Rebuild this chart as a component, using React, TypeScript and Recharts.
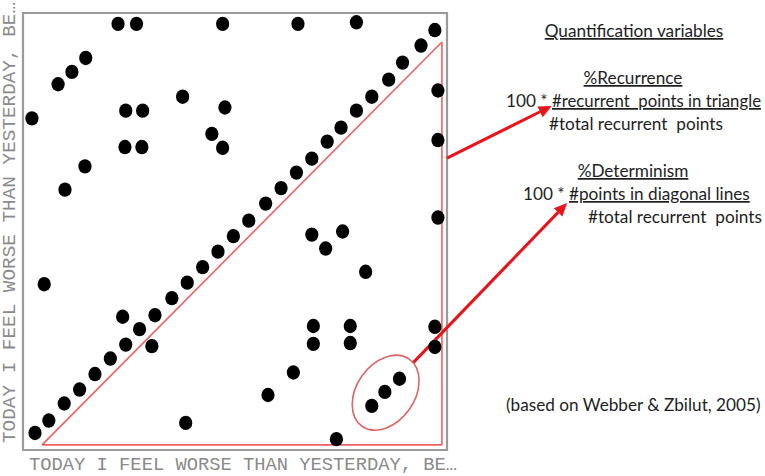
import React from "react";
import {
  ScatterChart,
  Scatter,
  XAxis,
  YAxis,
  ReferenceLine,
  ReferenceArea,
  ReferenceDot,
} from "recharts";

// recurrence points on the line of identity (time i vs time j)
const diagX = [0, 0.9, 1.9, 2.9, 3.9, 4.9, 5.9, 6.8, 7.8, 8.9, 9.9, 10.9, 11.9, 12.9, 13.9, 15.0, 16.0, 17.0, 18.0, 19.0, 19.9, 20.9, 21.9, 23.0, 23.9, 25.1, 26.0];
const diagY = [0, 0.8, 1.9, 2.8, 3.8, 4.8, 5.7, 6.7, 7.6, 8.7, 9.7, 10.7, 11.7, 12.7, 13.7, 14.8, 15.8, 16.8, 17.7, 18.8, 19.7, 20.8, 21.7, 22.8, 23.9, 25.0, 26.0];

// other recurrent points
const otherX = [5.4, 6.6, 12.2, 17.1, 20.9, 3.3, 2.4, 1.5, -0.2, 9.6, 5.9, 7.0, 12.35, 11.5, 12.2, 5.85, 6.95, 3.25, 1.95, 26.2, 26.2, 26.2, 18.0, 20.0, 18.9, 21.5, 0.6, 5.7, 7.6, 18.1, 20.5, 18.1, 20.5, 26.0, 26.0, 16.8, 15.15, 9.8, 19.6, 21.9, 22.75, 23.7];
const otherY = [26.4, 26.4, 26.4, 26.4, 26.5, 24.2, 23.3, 22.5, 20.3, 21.7, 20.8, 20.8, 21.0, 19.3, 18.4, 18.45, 18.45, 17.2, 15.7, 22.1, 18.9, 13.9, 12.8, 13.0, 11.9, 10.4, 9.6, 7.5, 5.6, 6.9, 6.9, 5.75, 5.8, 6.85, 5.55, 3.9, 2.45, 0.65, -0.4, 1.75, 2.65, 3.5];

// triangle (upper recurrence triangle outline) corners
const triX = [0.46, 26.46, 26.46];
const triY = [-0.77, 25.23, -0.77];

// circled diagonal line
const circleX = 22.8;
const circleY = 2.6;

// annotation arrows: [fromX, fromY, toX, toY]
const arrowRecurrence = [26.79, 17.74, 33.6, 21.1];
const arrowDeterminism = [24.58, 4.52, 34.6, 14.84];

const axisTitle = "TODAY I FEEL WORSE THAN YESTERDAY, BE…";

const xDomain = [-0.78, 26.79];
const yDomain = [-1.1, 27.1];

const points = [
  ...diagX.map((x, i) => ({ x, y: diagY[i] })),
  ...otherX.map((x, i) => ({ x, y: otherY[i] })),
];

const Dot = (props: any) => {
  const { cx, cy } = props;
  if (cx == null || cy == null) return null;
  return <ellipse cx={cx} cy={cy} rx={6.6} ry={7.2} fill="#000" />;
};

const Arrow = (props: any) => {
  const { x1, y1, x2, y2 } = props;
  const a = Math.atan2(y2 - y1, x2 - x1);
  const len = 13;
  const w = 6;
  const bx = x2 - len * Math.cos(a);
  const by = y2 - len * Math.sin(a);
  const p1 = `${bx + w * Math.sin(a)},${by - w * Math.cos(a)}`;
  const p2 = `${bx - w * Math.sin(a)},${by + w * Math.cos(a)}`;
  return (
    <g>
      <line x1={x1} y1={y1} x2={bx} y2={by} stroke="#e8141b" strokeWidth={3} />
      <polygon points={`${x2},${y2} ${p1} ${p2}`} fill="#e8141b" />
    </g>
  );
};

const CircleMark = (props: any) => {
  const { cx, cy } = props;
  return (
    <ellipse
      cx={cx}
      cy={cy}
      rx={41}
      ry={29}
      transform={`rotate(-55 ${cx} ${cy})`}
      fill="none"
      stroke="#e06666"
      strokeWidth={1.6}
    />
  );
};

const textStyle = {
  fontFamily: "Lato, 'Open Sans', sans-serif",
  fontSize: 17.2,
  fill: "#1e1e1e",
  whiteSpace: "pre" as const,
};
const ul = { textDecoration: "underline" };

export default function App() {
  return (
    <div style={{ position: "absolute", left: 0, top: 0, width: 765, height: 476, background: "#fff" }}>
      <ScatterChart width={765} height={476} margin={{ top: 13, right: 318, bottom: 0, left: 0 }}>
        <XAxis type="number" dataKey="x" domain={xDomain} allowDataOverflow height={26} tick={false} tickLine={false} axisLine={false} />
        <YAxis type="number" dataKey="y" domain={yDomain} allowDataOverflow width={23} tick={false} tickLine={false} axisLine={false} />
        <ReferenceArea x1={xDomain[0]} x2={xDomain[1]} y1={yDomain[0]} y2={yDomain[1]} fill="none" stroke="#9a9a9a" strokeWidth={2.2} />
        <ReferenceLine segment={[{ x: triX[0], y: triY[0] }, { x: triX[1], y: triY[1] }]} stroke="#f06060" strokeWidth={1.6} ifOverflow="visible" />
        <ReferenceLine segment={[{ x: triX[1], y: triY[1] }, { x: triX[2], y: triY[2] }]} stroke="#f06060" strokeWidth={1.6} ifOverflow="visible" />
        <ReferenceLine segment={[{ x: triX[2], y: triY[2] }, { x: triX[0], y: triY[0] }]} stroke="#f06060" strokeWidth={1.6} ifOverflow="visible" />
        <Scatter data={points} isAnimationActive={false} shape={<Dot />} />
        <ReferenceDot x={circleX} y={circleY} ifOverflow="visible" shape={<CircleMark />} />
        <ReferenceLine
          segment={[{ x: arrowRecurrence[0], y: arrowRecurrence[1] }, { x: arrowRecurrence[2], y: arrowRecurrence[3] }]}
          ifOverflow="visible"
          shape={<Arrow />}
        />
        <ReferenceLine
          segment={[{ x: arrowDeterminism[0], y: arrowDeterminism[1] }, { x: arrowDeterminism[2], y: arrowDeterminism[3] }]}
          ifOverflow="visible"
          shape={<Arrow />}
        />
      </ScatterChart>
      <svg width={765} height={476} style={{ position: "absolute", left: 0, top: 0, pointerEvents: "none" }}>
        <text x={29} y={470} textLength={428} lengthAdjust="spacingAndGlyphs" style={{ fontFamily: "'Liberation Mono', monospace", fontSize: 18.5, fill: "#8a8a8a" }}>
          {axisTitle}
        </text>
        <text
          x={0}
          y={0}
          transform="translate(15 443) rotate(-90)"
          textLength={441}
          lengthAdjust="spacingAndGlyphs"
          style={{ fontFamily: "'Liberation Mono', monospace", fontSize: 18.5, fill: "#8a8a8a" }}
        >
          {axisTitle}
        </text>
        <text x={634} y={37} textAnchor="middle" style={{ ...textStyle, ...ul }}>Quantification variables</text>
        <text x={633} y={84} textAnchor="middle" style={{ ...textStyle, ...ul }}>%Recurrence</text>
        <text x={506} y={107} style={textStyle}>{"100 * "}</text>
        <text x={552} y={107} textLength={209} lengthAdjust="spacingAndGlyphs" style={{ ...textStyle, ...ul }}>
          {"#recurrent  points in triangle"}
        </text>
        <text x={549} y={130} style={textStyle}>{"#total recurrent  points"}</text>
        <text x={633} y={177} textAnchor="middle" style={{ ...textStyle, ...ul }}>%Determinism</text>
        <text x={523} y={200} style={textStyle}>{"100 * "}</text>
        <text x={569} y={200} style={{ ...textStyle, ...ul }}>#points in diagonal lines</text>
        <text x={588} y={223} style={textStyle}>{"#total recurrent  points"}</text>
        <text x={506} y={411} style={textStyle}>(based on Webber &amp; Zbilut, 2005)</text>
      </svg>
    </div>
  );
}
